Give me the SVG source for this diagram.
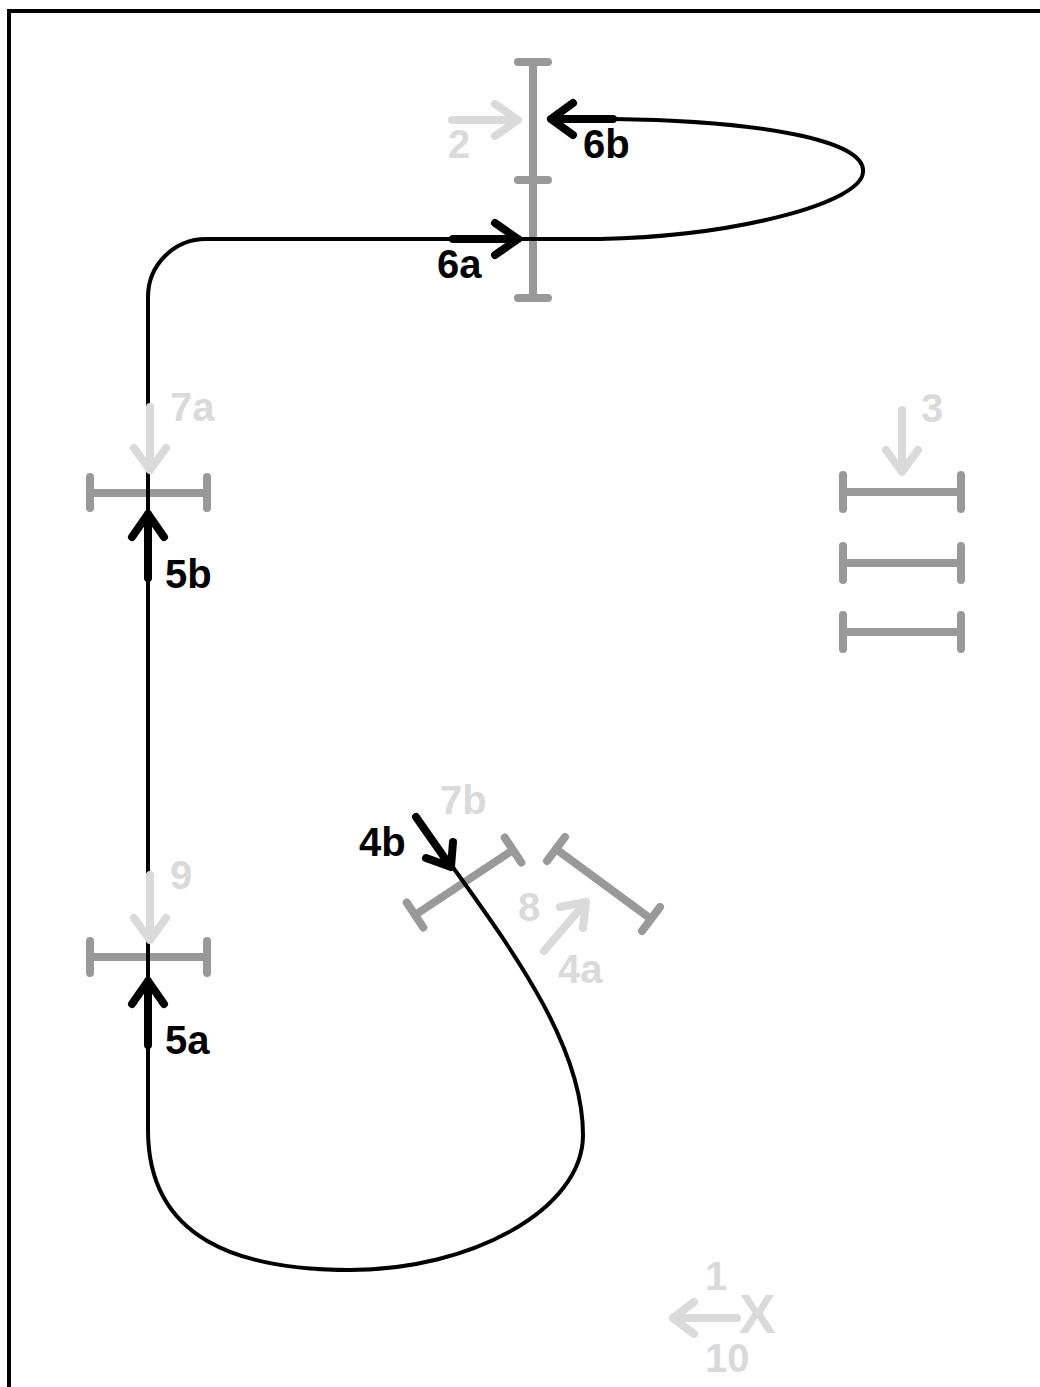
<svg xmlns="http://www.w3.org/2000/svg" width="1040" height="1387" viewBox="0 0 1040 1387">
<style>
.gate{stroke:#999999;stroke-width:8;stroke-linecap:round;fill:none}
.larr{stroke:#dadada;stroke-width:8;stroke-linecap:round;stroke-linejoin:round;fill:none}
.barr{stroke:#000000;stroke-width:8;stroke-linecap:round;stroke-linejoin:round;fill:none}
.lt{fill:#dadada;font-family:"Liberation Sans",Arial,sans-serif;font-weight:bold;font-size:40px}
.bt{fill:#000000;font-family:"Liberation Sans",Arial,sans-serif;font-weight:bold;font-size:40px}
.path{stroke:#000000;stroke-width:4;fill:none}
</style>
<rect x="0" y="0" width="1040" height="1387" fill="#ffffff"/>
<path d="M 9 1400 L 9 11 L 1050 11" stroke="#000000" stroke-width="4" fill="none"/>

<g id="gate-top">
<path class="gate" d="M 533 62 L 533 298 M 518 62 L 548 62 M 518 180 L 548 180 M 518 298 L 548 298"/>
</g>
<g id="gate-7a">
<path class="gate" d="M 90 493 L 207 493 M 90 477 L 90 508 M 207 477 L 207 508"/>
</g>
<g id="gate-9">
<path class="gate" d="M 90 957 L 207 957 M 90 941 L 90 973 M 207 941 L 207 973"/>
</g>
<g id="gate-3">
<path class="gate" d="M 843 492 L 961 492 M 843 475 L 843 509 M 961 475 L 961 509"/>
<path class="gate" d="M 843 563 L 961 563 M 843 546 L 843 580 M 961 546 L 961 580"/>
<path class="gate" d="M 843 632 L 961 632 M 843 615 L 843 649 M 961 615 L 961 649"/>
</g>
<g id="gate-7b">
<path class="gate" d="M 415 915 L 513 850 M 406.7 902.5 L 423.3 927.5 M 504.7 837.5 L 521.3 862.5"/>
</g>
<g id="gate-8">
<path class="gate" d="M 556 849 L 651 919 M 547 861 L 565 837 M 642 931 L 660 907"/>
</g>

<g id="connectors">
<path class="path" d="M 550 119 L 613 119 C 760 121, 866 140, 863 172 C 862 202, 740 236, 600 239 L 206 239 A 58 58 0 0 0 148 297 L 148 1130 C 148 1240, 240 1270, 350 1270 C 470 1270, 583 1210, 583 1135 C 583 1050, 520 960, 452 866"/>
</g>

<g id="arrow-2">
<path class="larr" d="M 452 120 L 518 120 M 495 104 L 518 120 L 495 136"/>
<text class="lt" x="448" y="158">2</text>
</g>
<g id="arrow-6b">
<path class="barr" d="M 613 119 L 551 119 M 573 103 L 551 119 L 573 135"/>
<text class="bt" x="583" y="158">6b</text>
</g>
<g id="arrow-6a">
<path class="barr" d="M 453 239 L 518 239 M 495 223 L 518 239 L 495 255"/>
<text class="bt" x="437" y="278">6a</text>
</g>
<g id="arrow-7a">
<path class="larr" d="M 150 407 L 150 470 M 134 448 L 150 470 L 166 448"/>
<text class="lt" x="170" y="421">7a</text>
</g>
<g id="arrow-5b">
<path class="barr" d="M 148 578 L 148 514 M 132 537 L 148 514 L 164 537"/>
<text class="bt" x="165" y="588">5b</text>
</g>
<g id="arrow-9">
<path class="larr" d="M 150 875 L 150 940 M 134 918 L 150 940 L 166 918"/>
<text class="lt" x="170" y="889">9</text>
</g>
<g id="arrow-5a">
<path class="barr" d="M 148 1045 L 148 981 M 132 1004 L 148 981 L 164 1004"/>
<text class="bt" x="165" y="1054">5a</text>
</g>
<g id="arrow-3">
<path class="larr" d="M 902 410 L 902 472 M 886 450 L 902 472 L 918 450"/>
<text class="lt" x="921" y="422">3</text>
</g>
<g id="arrow-4b">
<path class="barr" d="M 416 817 L 451 867 M 453 842 L 451 867 L 426 858"/>
<text class="bt" x="359" y="856">4b</text>
</g>
<g id="label-7b">
<text class="lt" x="440" y="814">7b</text>
</g>
<g id="arrow-4a">
<path class="larr" d="M 544 951 L 586 902 M 560 907 L 586 902 L 583 928"/>
<text class="lt" x="518" y="921">8</text>
<text class="lt" x="558" y="983">4a</text>
</g>
<g id="arrow-1">
<path class="larr" d="M 737 1318 L 673 1318 M 694 1302 L 673 1318 L 694 1334"/>
<text class="lt" x="705" y="1290">1</text>
<text class="lt" x="739" y="1333" style="font-size:55px">X</text>
<text class="lt" x="705" y="1372">10</text>
</g>
</svg>
